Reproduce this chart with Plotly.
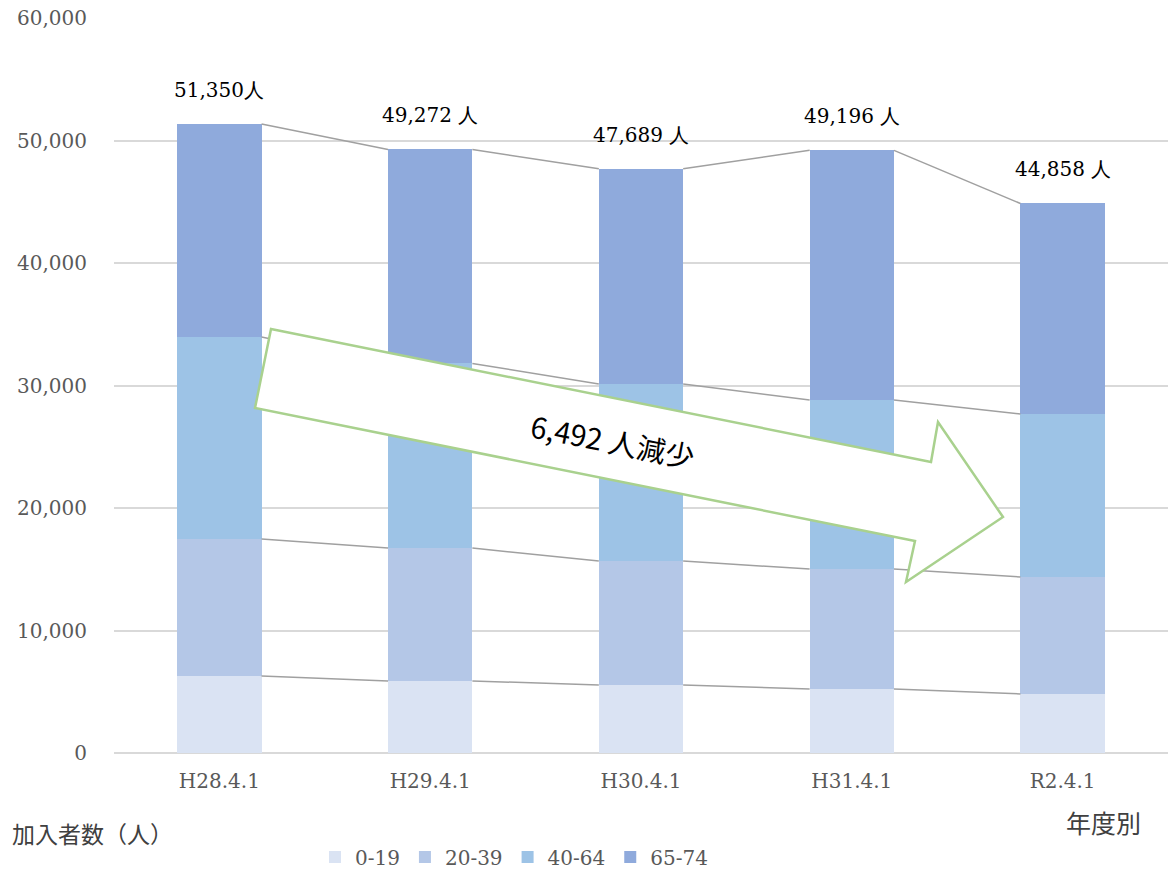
import plotly.graph_objects as go

# Members by fiscal year and age band
categories = ["H28.4.1", "H29.4.1", "H30.4.1", "H31.4.1", "R2.4.1"]
age_0_19 = [6290, 5880, 5550, 5220, 4820]
age_20_39 = [11180, 10850, 10120, 9800, 9550]
age_40_64 = [16490, 15070, 14450, 13800, 13300]
age_65_74 = [17390, 17472, 17569, 20376, 17188]
series_names = ["0-19", "20-39", "40-64", "65-74"]
series_colors = ["#dae3f3", "#b4c7e7", "#9dc3e6", "#8faadc"]
y_ticks = [0, 10000, 20000, 30000, 40000, 50000, 60000]
decrease_text = "6,492 人減少"

series = [age_0_19, age_20_39, age_40_64, age_65_74]
totals = [sum(v) for v in zip(*series)]

W, H = 1168, 872
L, R, T, B = 114, 0, 18, 119
BAR_W = 0.4
SERIF = "DejaVu Serif, Liberation Serif, serif"
SANS = "Noto Sans CJK JP, sans-serif"


def px_x(p):
    return (p - L) / (W - L - R)


def px_y(p):
    return (H - B - p) / (H - T - B)


fig = go.Figure()
xs = list(range(len(categories)))

for name, vals, col in zip(series_names, series, series_colors):
    fig.add_trace(go.Bar(
        x=xs, y=vals, name=name, width=BAR_W,
        marker=dict(color=col, line=dict(width=0)),
        hoverinfo="y+name",
    ))

# Series lines joining the top of each stacked segment
cum = [0] * len(categories)
for vals in series:
    cum = [c + v for c, v in zip(cum, vals)]
    lx, ly = [], []
    for i in range(len(categories) - 1):
        lx += [i + BAR_W / 2, i + 1 - BAR_W / 2, None]
        ly += [cum[i], cum[i + 1], None]
    fig.add_trace(go.Scatter(
        x=lx, y=ly, mode="lines", showlegend=False, hoverinfo="skip",
        line=dict(color="#a0a0a0", width=1.5),
    ))

# Total labels above each bar
for i, t in enumerate(totals):
    sep = "" if i == 0 else " "
    fig.add_annotation(
        x=i, y=t, text=f"{t:,}{sep}人", showarrow=False,
        yshift=34, yanchor="middle", xanchor="center",
        font=dict(family=SERIF, size=20, color="#000000"),
    )

# Hollow arrow showing the decrease
arrow_px = [(271, 329), (931, 462), (938, 422), (1003, 517),
            (906, 582), (915, 541), (255, 408)]
path = "M " + " L ".join(f"{px_x(x):.5f},{px_y(y):.5f}" for x, y in arrow_px) + " Z"
fig.add_shape(
    type="path", path=path, xref="paper", yref="paper", layer="above",
    fillcolor="#ffffff", line=dict(color="#a9d18e", width=2.5),
)
fig.add_annotation(
    x=px_x(613), y=px_y(440), xref="paper", yref="paper",
    text=decrease_text, showarrow=False, textangle=11,
    font=dict(family=SANS, size=29, color="#000000"),
)

# Axis titles
fig.add_annotation(
    x=px_x(10), y=px_y(833), xref="paper", yref="paper",
    text="加入者数（人）", showarrow=False, xanchor="left", yanchor="middle",
    font=dict(family=SANS, size=23, color="#404040"),
)
fig.add_annotation(
    x=px_x(1103), y=px_y(822), xref="paper", yref="paper",
    text="年度別", showarrow=False, xanchor="center", yanchor="middle",
    font=dict(family=SANS, size=25, color="#404040"),
)

fig.update_layout(
    width=W, height=H, autosize=False,
    margin=dict(l=L, r=R, t=T, b=B, pad=0, autoexpand=False),
    barmode="stack", bargap=0.6,
    plot_bgcolor="#ffffff", paper_bgcolor="#ffffff",
    showlegend=True,
    legend=dict(
        orientation="h", x=px_x(514), y=px_y(857), xanchor="center", yanchor="middle",
        font=dict(family=SERIF, size=20, color="#595959"),
        itemwidth=30, tracegroupgap=0, traceorder="normal",
        bgcolor="rgba(0,0,0,0)",
    ),
)
fig.update_xaxes(
    range=[-0.5, len(categories) - 0.5],
    tickmode="array", tickvals=xs, ticktext=categories,
    showgrid=False, zeroline=False, showline=False, ticks="",
    tickfont=dict(family=SERIF, size=20, color="#595959"),
    ticklabelstandoff=14,
)
fig.update_yaxes(
    range=[0, 60000], tickmode="array", tickvals=y_ticks,
    tickformat=",", showgrid=True, gridcolor="#d9d9d9", gridwidth=1.5,
    zeroline=True, zerolinecolor="#d9d9d9", zerolinewidth=1.5,
    showline=False, ticks="",
    tickfont=dict(family=SERIF, size=20, color="#595959"),
    ticklabelstandoff=26,
)

fig.write_html("out.html")
